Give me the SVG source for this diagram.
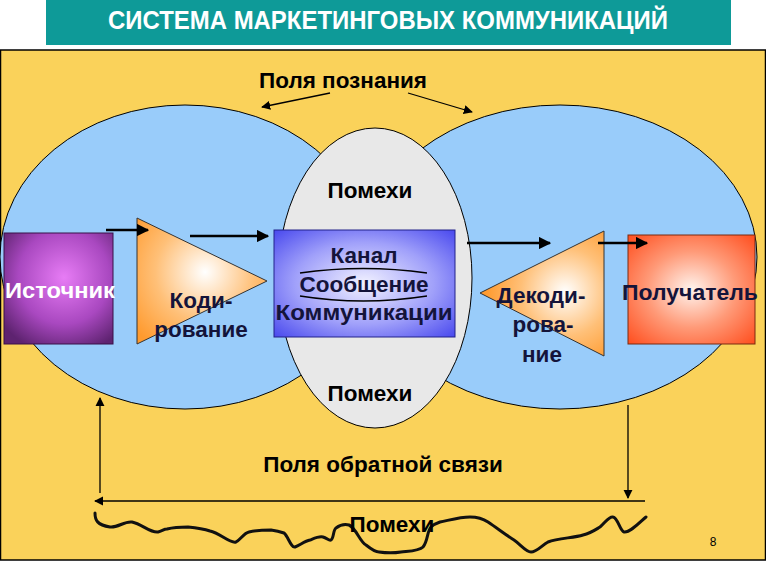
<svg xmlns="http://www.w3.org/2000/svg" width="766" height="581" viewBox="0 0 766 581">
<style>
.lbl{font-family:"Liberation Sans",Arial,sans-serif;font-weight:bold;font-size:22.5px;fill:#000;}
.nlbl{font-family:"Liberation Sans",Arial,sans-serif;font-weight:bold;font-size:22.5px;fill:#14143a;}
.ell{stroke:#000;stroke-width:1;}
.conn{stroke:#000;stroke-width:2.5;fill:none;}
.thin{stroke:#000;stroke-width:1.3;fill:none;}
</style>
<defs>
<marker id="ah" viewBox="0 0 10 10" refX="9" refY="5" markerWidth="5" markerHeight="5" orient="auto-start-reverse" markerUnits="strokeWidth">
<path d="M0,0 L10,5 L0,10 z" fill="#000"/>
</marker>
<marker id="ahs" viewBox="0 0 10 10" refX="9" refY="5" markerWidth="7" markerHeight="7" orient="auto-start-reverse" markerUnits="strokeWidth">
<path d="M0,0 L10,5 L0,10 z" fill="#000"/>
</marker>
<radialGradient id="gPurple" cx="0.55" cy="0.4" r="0.7">
<stop offset="0" stop-color="#e77cf5"/>
<stop offset="0.6" stop-color="#a948c0"/>
<stop offset="1" stop-color="#5e2370"/>
</radialGradient>
<radialGradient id="gOrange1" gradientUnits="userSpaceOnUse" cx="205" cy="272" r="90">
<stop offset="0" stop-color="#ffffff"/>
<stop offset="0.55" stop-color="#ffc078"/>
<stop offset="1" stop-color="#ff9a2e"/>
</radialGradient>
<radialGradient id="gOrange2" gradientUnits="userSpaceOnUse" cx="565" cy="292" r="80">
<stop offset="0" stop-color="#ffffff"/>
<stop offset="0.55" stop-color="#ffc078"/>
<stop offset="1" stop-color="#ff9a2e"/>
</radialGradient>
<radialGradient id="gBlue" cx="0.5" cy="0.5" r="0.7">
<stop offset="0" stop-color="#f2f2ff"/>
<stop offset="0.55" stop-color="#a0a0fa"/>
<stop offset="1" stop-color="#4a4aee"/>
</radialGradient>
<radialGradient id="gRed" cx="0.5" cy="0.5" r="0.7">
<stop offset="0" stop-color="#fff4ee"/>
<stop offset="0.5" stop-color="#ff9a78"/>
<stop offset="1" stop-color="#ff4e1e"/>
</radialGradient>
</defs>

<rect x="0" y="0" width="766" height="581" fill="#ffffff"/>
<g id="title">
<rect x="46" y="0" width="685" height="45" fill="#0e9a98"/>
<text x="388" y="29" text-anchor="middle" textLength="560" lengthAdjust="spacingAndGlyphs" style="font-family:'Liberation Sans',Arial,sans-serif;font-weight:bold;font-size:25px;fill:#fff;">СИСТЕМА МАРКЕТИНГОВЫХ КОММУНИКАЦИЙ</text>
</g>

<g id="panel">
<rect x="0.5" y="50" width="765" height="510" fill="#fad25a" stroke="#000" stroke-width="1.5"/>
</g>

<g id="field-left">
<ellipse class="ell" cx="185" cy="257" rx="185" ry="152" fill="#99ccfa"/>
</g>
<g id="field-right">
<ellipse class="ell" cx="560" cy="257" rx="197" ry="152" fill="#99ccfa"/>
</g>
<g id="noise-zone">
<ellipse class="ell" cx="375" cy="278" rx="97" ry="150" fill="#e8e8e8"/>
<text class="lbl" x="370" y="198" text-anchor="middle">Помехи</text>
<text class="lbl" x="370" y="401" text-anchor="middle">Помехи</text>
</g>

<g id="label-fields">
<text class="lbl" x="343" y="88" text-anchor="middle">Поля познания</text>
</g>

<g id="source">
<rect x="4" y="233" width="109" height="111" fill="url(#gPurple)" stroke="#3a1048" stroke-width="1"/>
<text x="60" y="298" text-anchor="middle" textLength="110" lengthAdjust="spacingAndGlyphs" style="font-family:'Liberation Sans',Arial,sans-serif;font-weight:bold;font-size:22px;fill:#fff;">Источник</text>
</g>

<g id="encoding">
<polygon points="137,218 137,344 267,281" fill="url(#gOrange1)" stroke="#333" stroke-width="1"/>
<text class="nlbl" x="201" y="308" text-anchor="middle">Коди-</text>
<text class="nlbl" x="201" y="337" text-anchor="middle">рование</text>
</g>

<g id="channel">
<rect x="274" y="230" width="181" height="107" fill="url(#gBlue)" stroke="#22228a" stroke-width="1"/>
<path class="thin" d="M300,273 Q363,264 427,273" stroke-width="0.8"/>
<path class="thin" d="M300,296 Q363,306 427,296" stroke-width="0.8"/>
<text class="nlbl" x="364" y="263" text-anchor="middle">Канал</text>
<text class="nlbl" x="364" y="292" text-anchor="middle">Сообщение</text>
<text class="nlbl" x="364" y="320" text-anchor="middle" textLength="177" lengthAdjust="spacingAndGlyphs">Коммуникации</text>
</g>

<g id="decoding">
<polygon points="480,293 604,231 604,356" fill="url(#gOrange2)" stroke="#333" stroke-width="1"/>
<text class="nlbl" x="541" y="303" text-anchor="middle">Декоди-</text>
<text class="nlbl" x="543" y="332" text-anchor="middle">рова-</text>
<text class="nlbl" x="542" y="362" text-anchor="middle">ние</text>
</g>

<g id="receiver">
<rect x="628" y="235" width="127" height="109" fill="url(#gRed)" stroke="#7a2a10" stroke-width="1"/>
<text class="nlbl" x="690" y="300" text-anchor="middle" textLength="136" lengthAdjust="spacingAndGlyphs">Получатель</text>
</g>

<g id="feedback">
<text class="lbl" x="383" y="472" text-anchor="middle">Поля обратной связи</text>
</g>

<g id="noise-bottom">
<path d="M95,513 C95,520 97,525 110,527 C118,528 124,521 132,522 C142,524 150,533 158,532 C162,531 164,529 167,529 C175,527 180,527 188,527 C198,528 204,529 210,531 C220,533 230,544 236,542 C240,540 244,533 249,532 C258,530 264,530 271,530 C278,531 281,532 284,533 C288,536 291,548 295,547 C300,545 305,541 310,540 C315,538 319,536 323,537 C327,538 329,541 331,540 C334,538 333,530 336,528 C340,525 345,524 349,525 C356,528 360,542 366,545 C371,549 375,552 379,552 C386,553 395,553 401,552 C410,551 419,551 423,547 C428,541 427,531 431,527 C434,524 437,523 440,522 C450,520 460,517 470,517 C478,517 482,518 488,522 C497,528 506,535 514,540 C520,544 526,552 531,552 C537,552 542,545 548,542 C558,538 574,538 583,535 C591,533 595,530 600,527 C605,523 609,516 613,517 C618,518 620,531 624,532 C630,533 640,522 646,517" fill="none" stroke="#111" stroke-width="3" stroke-linejoin="round" stroke-linecap="round"/>
<text class="lbl" x="392" y="532" text-anchor="middle">Помехи</text>
</g>

<g id="page-number">
<text x="713" y="546" text-anchor="middle" style="font-family:'Liberation Sans',Arial,sans-serif;font-size:12px;fill:#000;">8</text>
</g>

<g id="connectors">
<line class="conn" x1="106" y1="230" x2="148" y2="230" marker-end="url(#ah)"/>
<line class="conn" x1="190" y1="236" x2="268" y2="236" marker-end="url(#ah)"/>
<line class="conn" x1="467" y1="243" x2="550" y2="243" marker-end="url(#ah)"/>
<line class="conn" x1="598" y1="243" x2="647" y2="243" marker-end="url(#ah)"/>
<line class="thin" x1="330" y1="93" x2="262" y2="107" marker-end="url(#ahs)"/>
<line class="thin" x1="408" y1="93" x2="472" y2="112" marker-end="url(#ahs)"/>
<line class="thin" x1="100" y1="493" x2="100" y2="398" marker-end="url(#ahs)"/>
<line class="thin" x1="628" y1="405" x2="628" y2="498" marker-end="url(#ahs)"/>
<line class="thin" x1="645" y1="501" x2="95" y2="501" marker-end="url(#ahs)"/>
</g>
</svg>
